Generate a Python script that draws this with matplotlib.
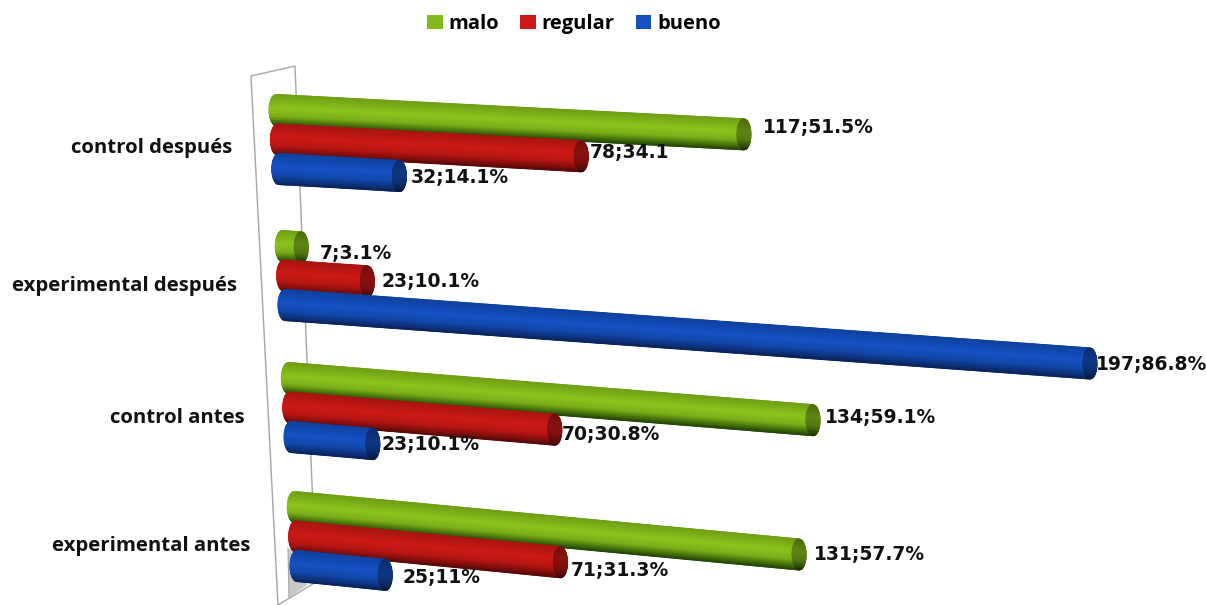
import numpy as np
import matplotlib
matplotlib.use('Agg')
import matplotlib.pyplot as plt
from matplotlib.colors import LinearSegmentedColormap, to_rgb
from matplotlib.patches import Patch, Polygon

# data, groups from top to bottom
groups = ['control después', 'experimental después', 'control antes', 'experimental antes']
malo = [117, 7, 134, 131]
regular = [78, 23, 70, 71]
bueno = [32, 197, 23, 25]
malo_labels = ['117;51.5%', '7;3.1%', '134;59.1%', '131;57.7%']
regular_labels = ['78;34.1', '23;10.1%', '70;30.8%', '71;31.3%']
bueno_labels = ['32;14.1%', '197;86.8%', '23;10.1%', '25;11%']
series_names = ['malo', 'regular', 'bueno']

# colours: side of the cylinder from the top edge to the bottom edge
shades = {
    'malo': ['#6f9f14', '#8cc41e', '#7cae18', '#3f6b0a', '#26460a'],
    'regular': ['#a81512', '#cc1a16', '#b81613', '#7c0e0b', '#560a08'],
    'bueno': ['#0f419f', '#1552c4', '#1248ac', '#0c3178', '#0a2457'],
}
legend_colors = ['#84ba1c', '#cf1a18', '#1450c0']
shade_pos = [0, 0.42, 0.7, 0.91, 1]

# 3d look, everything in pixels of the picture
group_y = [110, 246, 378, 507]
group_scale = [4.085, 4.137, 3.99, 3.93]
series_scale = [1, 0.985, 1]
bar_gap = 29.5
half_h = 15.5
cap_w = 7.0
label_dx = [[12, 1.5, 4], [12, 7, -1], [5, 0, 2], [8, 3.5, 10]]
label_dy = [[-7, -4, 1], [6, 0, 1.5], [-3, 4.5, 0], [0.5, 8, 3]]
group_label_right = [232, 237, 245, 250]
group_label_y = [148, 286, 418, 546]


def bar_ends(y0, length):
    left = 269 + (y0 - 110) * 0.046
    slope = 0.052 + 0.000106 * (y0 - 110)
    x0 = left + cap_w
    x1 = left + length + 4 - cap_w
    y1 = y0 + slope * (x1 - x0)
    return x0, x1, y1, slope


def cylinder(ax, y0, length, colors, z):
    x0, x1, y1, slope = bar_ends(y0, length)
    side = LinearSegmentedColormap.from_list('side', list(zip(shade_pos, colors)))
    dark = LinearSegmentedColormap.from_list(
        'cap', list(zip(shade_pos, [tuple(0.68 * v for v in to_rgb(c)) for c in colors])))
    t = np.linspace(-1, 1, 41)
    w = cap_w * np.sqrt(1 - t * t)
    color_t = np.column_stack([(t + 1) / 2, (t + 1) / 2])

    # long side, both ends bulge out as half ellipses
    bx = np.column_stack([x0 - w, x1 + w])
    by = np.column_stack([y0 + t * half_h, y1 + t * half_h])
    ax.pcolormesh(bx, by, color_t, cmap=side, vmin=0, vmax=1, shading='gouraud', zorder=z)

    # end cap
    cx = np.column_stack([x1 - w, x1 + w])
    cy = np.column_stack([y1 + t * half_h - slope * w, y1 + t * half_h + slope * w])
    ax.pcolormesh(cx, cy, color_t, cmap=dark, vmin=0, vmax=1, shading='gouraud', zorder=z)
    return x1, y1


fig = plt.figure(figsize=(12.06, 6.05), dpi=100)
ax = fig.add_axes([0, 0, 1, 1])

# wall and floor behind the bars
ax.add_patch(Polygon([(288, 548), (307, 560), (307, 585), (289, 598)], facecolor='#c8c8c8', edgecolor='none', zorder=1))
ax.plot([278, 251, 295, 316, 278], [605, 76, 66, 582, 605], color='#a6a6a6', lw=1, zorder=2)
ax.plot([289, 288], [598, 548], color='#a6a6a6', lw=0.8, zorder=2)

all_values = [malo, regular, bueno]
all_labels = [malo_labels, regular_labels, bueno_labels]
for g in range(len(groups)):
    for s, name in enumerate(series_names):
        y0 = group_y[g] + s * bar_gap
        length = all_values[s][g] * group_scale[g] * series_scale[s]
        x1, y1 = cylinder(ax, y0, length, shades[name], 3 + g * 3 + s)
        ax.text(x1 + cap_w + label_dx[g][s], y1 + label_dy[g][s], all_labels[s][g],
                fontsize=13.5, fontweight='bold', family='DejaVu Sans', color='#111111',
                va='center', ha='left', zorder=20, clip_on=True)
    ax.text(group_label_right[g], group_label_y[g], groups[g], fontsize=14.7, fontweight='bold',
            family='Open Sans', color='#111111', va='center', ha='right')

ax.set_xlim(0, 1206)
ax.set_ylim(605, 0)
ax.axis('off')

handles = [Patch(facecolor=c, edgecolor='none') for c in legend_colors]
ax.legend(handles, series_names, loc='center', bbox_to_anchor=(0.4759, 0.9600), ncol=3, frameon=False,
          prop={'family': 'Open Sans', 'weight': 'bold', 'size': 14.5}, handlelength=0.78, handleheight=0.65,
          handletextpad=0.3, columnspacing=1.03, borderpad=0)

fig.savefig('out.png', dpi=100)
